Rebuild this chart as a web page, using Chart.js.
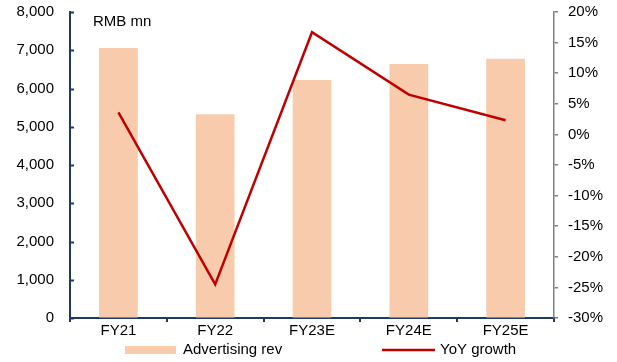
<!DOCTYPE html>
<html>
<head>
<meta charset="utf-8">
<script src="https://cdn.jsdelivr.net/npm/chart.js@4/dist/chart.umd.min.js"></script>
<style>
  html, body { margin: 0; padding: 0; background: #fff; }
  #wrap { width: 617px; height: 362px; position: relative; }
</style>
</head>
<body>
<div id="wrap"><canvas id="c"></canvas></div>
<script>
// Advertising revenue (RMB mn) and year-on-year growth (%)
const categories = ['FY21', 'FY22', 'FY23E', 'FY24E', 'FY25E'];
const advertisingRev = [7060, 5330, 6220, 6640, 6780];
const yoyGrowth = [3.6, -24.5, 16.7, 6.5, 2.3];
const revTicks = [0, 1000, 2000, 3000, 4000, 5000, 6000, 7000, 8000];
const growthTicks = [-30, -25, -20, -15, -10, -5, 0, 5, 10, 15, 20];

const FONT = "'Liberation Sans', Arial, sans-serif";
const NAVY = '#1F3A60';
const GREY = '#808080';
const BAR = '#F8CBAD';
const RED = '#C00000';

// Short tick marks on the inner side of the left axis, unit caption and legend
const decorations = {
  id: 'decorations',
  afterDraw(chart) {
    const ctx = chart.ctx;
    const area = chart.chartArea;
    const y = chart.scales.y;
    ctx.save();
    ctx.strokeStyle = NAVY;
    ctx.lineWidth = 2;
    y.ticks.forEach((t, i) => {
      const py = Math.round(y.getPixelForTick(i)) + 0.5;
      ctx.beginPath();
      ctx.moveTo(area.left, py);
      ctx.lineTo(area.left + 4, py);
      ctx.stroke();
    });

    ctx.fillStyle = '#000';
    ctx.font = '15px ' + FONT;
    ctx.textBaseline = 'middle';
    ctx.textAlign = 'left';
    ctx.fillText('RMB mn', area.left + 23, 22);

    // legend
    const ly = 350;
    ctx.fillStyle = BAR;
    ctx.fillRect(125, ly - 4, 51, 8);
    ctx.fillStyle = '#000';
    ctx.fillText(chart.data.datasets[0].label, 183, ly);
    ctx.strokeStyle = RED;
    ctx.lineWidth = 2.5;
    ctx.beginPath();
    ctx.moveTo(382, ly);
    ctx.lineTo(435, ly);
    ctx.stroke();
    ctx.fillText(chart.data.datasets[1].label, 440, ly);
    ctx.restore();
  }
};

new Chart(document.getElementById('c'), {
  type: 'bar',
  data: {
    labels: categories,
    datasets: [
      {
        type: 'bar',
        label: 'Advertising rev',
        data: advertisingRev,
        yAxisID: 'y',
        backgroundColor: BAR,
        barPercentage: 0.4,
        categoryPercentage: 1,
        order: 1
      },
      {
        type: 'line',
        label: 'YoY growth',
        data: yoyGrowth,
        yAxisID: 'y1',
        borderColor: RED,
        backgroundColor: RED,
        borderWidth: 2.5,
        pointRadius: 0,
        tension: 0,
        order: 0
      }
    ]
  },
  options: {
    responsive: true,
    maintainAspectRatio: false,
    animation: false,
    layout: { padding: { top: 12, left: 0, right: 0, bottom: 0 } },
    plugins: {
      legend: { display: false },
      tooltip: { enabled: false }
    },
    scales: {
      x: {
        grid: {
          offset: true,
          drawOnChartArea: false,
          drawTicks: true,
          tickLength: 4,
          color: NAVY,
          lineWidth: 2
        },
        border: { color: NAVY, width: 2 },
        ticks: { color: '#000', font: { family: FONT, size: 15 }, padding: 0 },
        afterFit(s) { s.height = 44; s.paddingLeft = 0; s.paddingRight = 0; }
      },
      y: {
        position: 'left',
        min: 0,
        max: 8000,
        afterBuildTicks(s) { s.ticks = revTicks.map(v => ({ value: v })); },
        grid: { drawOnChartArea: false, drawTicks: false },
        border: { color: NAVY, width: 2 },
        ticks: {
          color: '#000',
          font: { family: FONT, size: 15 },
          padding: 16,
          callback: v => v.toLocaleString('en-US')
        },
        afterFit(s) { s.width = 70; s.paddingTop = 0; s.paddingBottom = 0; }
      },
      y1: {
        position: 'right',
        min: -30,
        max: 20,
        afterBuildTicks(s) { s.ticks = growthTicks.map(v => ({ value: v })); },
        grid: {
          drawOnChartArea: false,
          drawTicks: true,
          tickLength: 4,
          color: GREY,
          lineWidth: 1.5
        },
        border: { color: GREY, width: 1.5 },
        ticks: {
          color: '#000',
          font: { family: FONT, size: 15 },
          padding: 10,
          callback: v => v + '%'
        },
        afterFit(s) { s.width = 63; s.paddingTop = 0; s.paddingBottom = 0; }
      }
    }
  },
  plugins: [decorations]
});
</script>
</body>
</html>
